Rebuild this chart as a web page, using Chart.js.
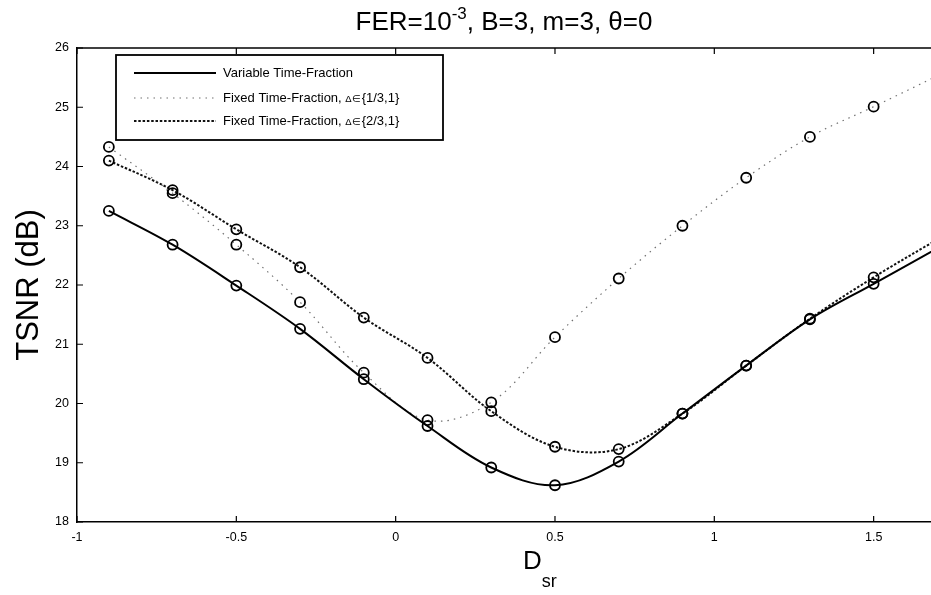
<!DOCTYPE html>
<html>
<head>
<meta charset="utf-8">
<script src="https://cdn.jsdelivr.net/npm/chart.js@4.4.0/dist/chart.umd.min.js"></script>
<style>
  html, body { margin: 0; padding: 0; background: #fff; }
  #wrap { width: 931px; height: 595px; }
</style>
</head>
<body>
<div id="wrap"><canvas id="myChart" width="931" height="595"></canvas></div>
<script>
// D_sr positions of the simulated points (last one is just past the visible edge)
var dsr = [-0.9, -0.7, -0.5, -0.3, -0.1, 0.1, 0.3, 0.5, 0.7, 0.9, 1.1, 1.3, 1.5, 1.7];

// TSNR (dB)
var variableTF = [23.25, 22.68, 21.99, 21.26, 20.41, 19.62, 18.92, 18.62, 19.02, 19.83, 20.64, 21.42, 22.02, 22.62];
var fixedOneThird = [24.33, 23.55, 22.68, 21.71, 20.52, 19.72, 20.02, 21.12, 22.11, 23.0, 23.81, 24.5, 25.01, 25.53];
var fixedTwoThirds = [24.1, 23.6, 22.94, 22.3, 21.45, 20.77, 19.87, 19.27, 19.23, 19.83, 20.64, 21.43, 22.13, 22.77];

var labels = [
  'Variable Time-Fraction',
  'Fixed Time-Fraction, \u0394\u2208{1/3,1}',
  'Fixed Time-Fraction, \u0394\u2208{2/3,1}'
];

var xTicks = [-1, -0.5, 0, 0.5, 1, 1.5];
var yTicks = [18, 19, 20, 21, 22, 23, 24, 25, 26];

var FONT = '"Liberation Sans", Arial, Helvetica, sans-serif';

function toPoints(ys) {
  return ys.map(function(y, i) { return { x: dsr[i], y: y }; });
}
// circles on every simulated point, none on the off-edge one
function radii() {
  return dsr.map(function(x) { return x > 1.6 ? 0 : 5; });
}

// box, inward tick marks, title, x label with subscript and the framed legend
var decorations = {
  id: 'decorations',
  afterDraw: function(chart) {
    var ctx = chart.ctx;
    var a = chart.chartArea;
    var xs = chart.scales.x, ys = chart.scales.y;
    ctx.save();
    ctx.strokeStyle = '#000';
    ctx.lineWidth = 1.5;
    ctx.beginPath();
    ctx.moveTo(a.left, a.top);
    ctx.lineTo(a.right, a.top);
    ctx.stroke();

    ctx.lineWidth = 1.2;
    ctx.beginPath();
    xs.ticks.forEach(function(t) {
      var px = xs.getPixelForValue(t.value);
      ctx.moveTo(px, a.bottom); ctx.lineTo(px, a.bottom - 6);
      ctx.moveTo(px, a.top); ctx.lineTo(px, a.top + 6);
    });
    ys.ticks.forEach(function(t) {
      var py = ys.getPixelForValue(t.value);
      ctx.moveTo(a.left, py); ctx.lineTo(a.left + 6, py);
    });
    ctx.stroke();

    // title with superscript
    ctx.fillStyle = '#000';
    ctx.textBaseline = 'alphabetic';
    var p1 = 'FER=10', sup = '-3', p2 = ', B=3, m=3, \u03b8=0';
    ctx.font = '26px ' + FONT;
    var w1 = ctx.measureText(p1).width, w3 = ctx.measureText(p2).width;
    ctx.font = '17px ' + FONT;
    var w2 = ctx.measureText(sup).width;
    var tx = (a.left + a.right) / 2 - (w1 + w2 + w3) / 2;
    ctx.font = '26px ' + FONT;
    ctx.textAlign = 'left';
    ctx.fillText(p1, tx, 30);
    ctx.font = '17px ' + FONT;
    ctx.fillText(sup, tx + w1, 19);
    ctx.font = '26px ' + FONT;
    ctx.fillText(p2, tx + w1 + w2, 30);

    // x axis label D_sr
    ctx.font = '26px ' + FONT;
    var dw = ctx.measureText('D').width;
    var lx = 523;
    ctx.fillText('D', lx, 569);
    ctx.font = '18px ' + FONT;
    ctx.fillText('sr', lx + dw, 587);

    // legend
    ctx.fillStyle = '#fff';
    ctx.fillRect(116, 55, 327, 85);
    ctx.lineWidth = 1.8;
    ctx.strokeStyle = '#000';
    ctx.strokeRect(116, 55, 327, 85);
    var rows = [73, 98, 121];
    chart.data.datasets.forEach(function(ds, i) {
      var y = rows[i];
      ctx.save();
      ctx.strokeStyle = ds.borderColor;
      ctx.lineWidth = ds.borderWidth;
      ctx.setLineDash(ds.borderDash || []);
      ctx.beginPath();
      ctx.moveTo(134, y);
      ctx.lineTo(216, y);
      ctx.stroke();
      ctx.restore();

      ctx.fillStyle = '#000';
      ctx.textBaseline = 'middle';
      var text = ds.label;
      var k = text.indexOf('\u0394\u2208');
      var x = 223;
      if (k < 0) {
        ctx.font = '13px ' + FONT;
        ctx.fillText(text, x, y);
      } else {
        var before = text.slice(0, k), sym = '\u0394\u2208', after = text.slice(k + 2);
        ctx.font = '13px ' + FONT;
        ctx.fillText(before, x, y);
        x += ctx.measureText(before).width;
        ctx.font = '9.5px ' + FONT;
        ctx.fillText(sym, x, y + 1);
        x += ctx.measureText(sym).width + 1;
        ctx.font = '13px ' + FONT;
        ctx.fillText(after, x, y);
      }
    });
    ctx.restore();
  }
};

var ctx = document.getElementById('myChart').getContext('2d');
var chart = new Chart(ctx, {
  type: 'line',
  data: {
    datasets: [{
      label: labels[0],
      data: toPoints(variableTF),
      borderColor: '#000',
      borderWidth: 2,
      tension: 0.35,
      pointRadius: radii(),
      pointBorderWidth: 1.8,
      pointBorderColor: '#000',
      pointBackgroundColor: 'rgba(0,0,0,0)'
    }, {
      label: labels[1],
      data: toPoints(fixedOneThird),
      borderColor: '#707070',
      borderWidth: 1.2,
      borderDash: [1.5, 5],
      tension: 0.35,
      pointRadius: radii(),
      pointBorderWidth: 1.8,
      pointBorderColor: '#000',
      pointBackgroundColor: 'rgba(0,0,0,0)'
    }, {
      label: labels[2],
      data: toPoints(fixedTwoThirds),
      borderColor: '#111',
      borderWidth: 2,
      borderDash: [2.5, 1.8],
      tension: 0.35,
      pointRadius: radii(),
      pointBorderWidth: 1.8,
      pointBorderColor: '#000',
      pointBackgroundColor: 'rgba(0,0,0,0)'
    }]
  },
  options: {
    responsive: false,
    animation: false,
    layout: { autoPadding: false, padding: { left: 0, top: 48, right: 0, bottom: 0 } },
    plugins: {
      legend: { display: false },
      title: { display: false },
      tooltip: { enabled: false }
    },
    scales: {
      x: {
        type: 'linear',
        min: -1,
        max: 1.68,
        grid: { display: false, drawTicks: false },
        border: { display: true, color: '#000', width: 1.5 },
        afterFit: function(s) { s.height = 73; },
        afterBuildTicks: function(s) { s.ticks = xTicks.map(function(v) { return { value: v }; }); },
        ticks: {
          color: '#000',
          padding: 8,
          maxRotation: 0,
          font: { family: FONT, size: 12.5 },
          callback: function(v) { return String(v); }
        }
      },
      y: {
        type: 'linear',
        min: 18,
        max: 26,
        grid: { display: false, drawTicks: false },
        border: { display: true, color: '#000', width: 1.5 },
        afterFit: function(s) { s.width = 77; },
        afterBuildTicks: function(s) { s.ticks = yTicks.map(function(v) { return { value: v }; }); },
        title: {
          display: true,
          text: 'TSNR (dB)',
          color: '#000',
          font: { family: FONT, size: 31 },
          padding: { top: 11, bottom: 0 }
        },
        ticks: {
          color: '#000',
          padding: 8,
          font: { family: FONT, size: 12.5 }
        }
      }
    }
  },
  plugins: [decorations]
});
</script>
</body>
</html>
